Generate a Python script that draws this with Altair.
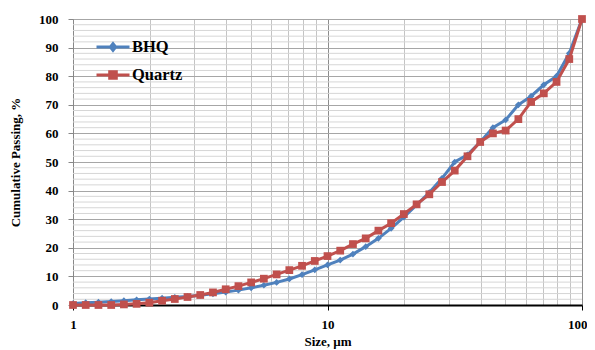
import altair as alt
import pandas as pd

# size classes (um), 20 per decade
sizes = [1.0, 1.122, 1.259, 1.413, 1.585, 1.778, 1.995, 2.239, 2.512, 2.818,
         3.162, 3.548, 3.981, 4.467, 5.012, 5.623, 6.310, 7.079, 7.943, 8.913,
         10.0, 11.22, 12.59, 14.13, 15.85, 17.78, 19.95, 22.39, 25.12, 28.18,
         31.62, 35.48, 39.81, 44.67, 50.12, 56.23, 63.10, 70.79, 79.43, 89.13, 100.0]

bhq = [0.5, 0.8, 1.0, 1.2, 1.5, 1.8, 2.1, 2.4, 2.7, 3.0,
       3.4, 3.9, 4.5, 5.2, 6.0, 6.9, 7.9, 9.1, 10.6, 12.3,
       14.0, 15.7, 17.8, 20.4, 23.3, 26.8, 30.7, 35.0, 39.3, 44.3,
       50.0, 52.5, 57.0, 62.0, 64.7, 70.0, 73.0, 77.0, 80.0, 88.0, 100.0]

quartz = [0.0, 0.0, 0.0, 0.0, 0.2, 0.4, 0.8, 1.5, 2.1, 2.8,
          3.5, 4.4, 5.5, 6.6, 7.9, 9.2, 10.7, 12.2, 13.7, 15.4,
          17.1, 19.0, 21.3, 23.3, 26.0, 28.6, 31.8, 35.2, 38.7, 43.0,
          47.0, 52.0, 57.0, 60.0, 61.0, 65.0, 71.0, 74.0, 78.0, 86.0, 100.0]

series_names = ["BHQ", "Quartz"]
series_colors = ["#4F81BD", "#C0504D"]

x_ticks = [1, 2, 3, 4, 5, 6, 7, 8, 9, 10, 20, 30, 40, 50, 60, 70, 80, 90, 100]
y_major = [0, 10, 20, 30, 40, 50, 60, 70, 80, 90, 100]
y_minor = [v for v in range(0, 101, 2) if v % 10 != 0]

rows = []
for s, v in zip(sizes, bhq):
    rows.append({"size": s, "passing": v, "series": "BHQ"})
for s, v in zip(sizes, quartz):
    rows.append({"size": s, "passing": v, "series": "Quartz"})
df = pd.DataFrame(rows)
minor_df = pd.DataFrame({"passing": y_minor})

FONT = "Liberation Serif"
MAJ_X = "indexof([1,10,100], datum.value) >= 0"

common_axis = dict(
    labelFont=FONT, labelFontWeight="bold", labelFontSize=13, labelColor="#000000",
    titleFont=FONT, titleFontWeight="bold", titleFontSize=13, titleColor="#000000",
    labelOverlap=False, labelFlush=False, tickSize=5, gridWidth=1,
)

x_axis = alt.Axis(
    title="Size, \u00b5m",
    values=x_ticks,
    labelExpr=MAJ_X + " ? format(datum.value, 'd') : ''",
    labelAlign={"condition": {"test": "datum.value == 100", "value": "right"}, "value": "center"},
    labelOffset={"condition": {"test": "datum.value == 100", "value": 5}, "value": 0},
    gridColor={"condition": {"test": MAJ_X, "value": "#8c8c8c"}, "value": "#c4c4c4"},
    tickColor={"condition": {"test": MAJ_X, "value": "#000000"}, "value": "transparent"},
    domainColor="#000000",
    domainWidth=2,
    labelPadding=8,
    titlePadding=4,
    **common_axis,
)
y_axis = alt.Axis(
    title="Cumulative Passing, %",
    values=y_major,
    format="d",
    gridColor="#a6a6a6",
    tickColor="#888888",
    domainColor="#888888",
    labelPadding=10,
    titlePadding=16,
    **common_axis,
)
x_scale = alt.Scale(type="log", domain=[1, 100], nice=False)
y_scale = alt.Scale(domain=[0, 100], nice=False)


def X():
    return alt.X("size:Q", scale=x_scale, axis=x_axis)


def Y():
    return alt.Y("passing:Q", scale=y_scale, axis=y_axis)


color_scale = alt.Scale(domain=series_names, range=series_colors)

# legend symbols: a line segment with the marker drawn as nested outlines
p_bhq = ("M-1,0H1"
         "M0,-0.2L0.16,0L0,0.2L-0.16,0Z"
         "M0,-0.1L0.08,0L0,0.1L-0.08,0Z")
p_q = ("M-1,0H1"
       "M-0.2,-0.2H0.2V0.2H-0.2Z"
       "M-0.1,-0.1H0.1V0.1H-0.1Z")
shape_scale = alt.Scale(domain=series_names, range=[p_bhq, p_q])

legend = alt.Legend(
    orient="none",
    legendX=22,
    legendY=10,
    title=None,
    labelFont=FONT,
    labelFontWeight="bold",
    labelFontSize=16.5,
    labelColor="#000000",
    symbolSize=1089,
    symbolStrokeWidth=3,
    symbolOpacity=1,
    labelOffset=1,
    rowPadding=0,
)

base = alt.Chart(df)

minor_grid = alt.Chart(minor_df).mark_rule(color="#d6d6d6", strokeWidth=1).encode(
    y=Y(),
)

legend_layer = base.mark_point(filled=False, opacity=0, strokeWidth=3).encode(
    x=X(),
    y=Y(),
    color=alt.Color("series:N", scale=color_scale, legend=legend),
    shape=alt.Shape("series:N", scale=shape_scale, legend=legend),
)


def series_layers(name, shape, size):
    sub = base.transform_filter(alt.datum.series == name)
    ln = sub.mark_line(strokeWidth=3).encode(
        x=X(), y=Y(),
        color=alt.Color("series:N", scale=color_scale, legend=None),
    )
    pt = sub.mark_point(shape=shape, filled=True, size=size, opacity=1).encode(
        x=X(), y=Y(),
        color=alt.Color("series:N", scale=color_scale, legend=None),
    )
    return [ln, pt]


layers = [legend_layer, minor_grid] + series_layers("BHQ", "diamond", 45) + series_layers("Quartz", "square", 60)

chart = alt.layer(*layers).properties(
    width=509,
    height=286,
    autosize=alt.AutoSizeParams(type="none"),
    padding={"left": 65, "top": 11, "right": 5, "bottom": 45},
).configure_view(
    stroke="#8c8c8c", strokeWidth=1
).configure_axis(
    labelOverlap=False
).configure(background="white")

chart.save("out.html", embed_options={"renderer": "svg", "actions": False})
